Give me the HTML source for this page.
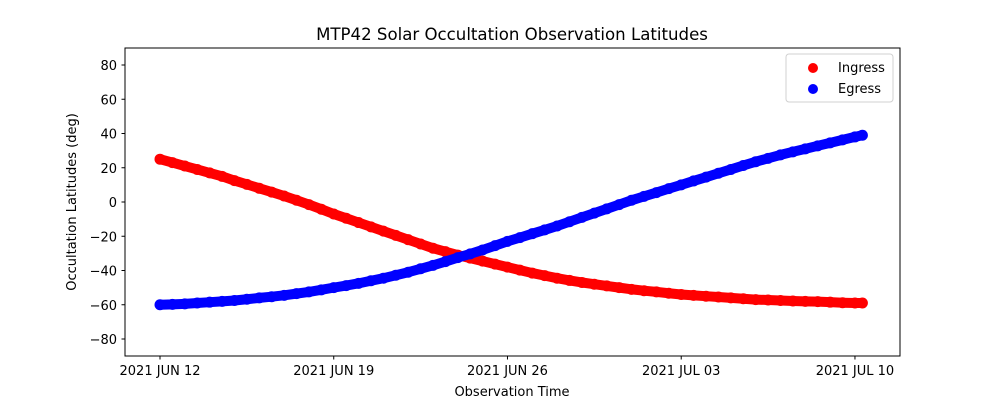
<!DOCTYPE html>
<html><head><meta charset="utf-8"><style>
body{margin:0;background:#fff;}
svg text{font-family:"DejaVu Sans","Liberation Sans",sans-serif;fill:#000;}
</style></head><body>
<svg id="chart" width="1000" height="400" xmlns="http://www.w3.org/2000/svg">
<rect width="1000" height="400" fill="#fff"/>
<text x="512" y="40" font-size="16.6" text-anchor="middle">MTP42 Solar Occultation Observation Latitudes</text>
<g id="marks"></g>
<g id="axes"></g>
<rect x="125" y="48" width="775" height="308" fill="none" stroke="#000" stroke-width="1"/>
<g>
<rect x="786" y="54" width="107" height="48" rx="3" fill="#fff" stroke="#ccc" opacity="0.9"/>
<circle cx="813" cy="68" r="5" fill="#f00"/>
<text x="838" y="72" font-size="13">Ingress</text>
<circle cx="813" cy="89" r="5" fill="#00f"/>
<text x="838" y="93" font-size="13">Egress</text>
</g>
<text x="512" y="396" font-size="13" text-anchor="middle">Observation Time</text>
<text transform="translate(76,202) rotate(-90)" font-size="13" text-anchor="middle">Occultation Latitudes (deg)</text>
</svg>
<script>
// days since 2021 JUN 12, half-day steps
const days = [0,0.5,1,1.5,2,2.5,3,3.5,4,4.5,5,5.5,6,6.5,7,7.5,8,8.5,9,9.5,10,10.5,11,11.5,12,12.5,13,13.5,14,14.5,15,15.5,16,16.5,17,17.5,18,18.5,19,19.5,20,20.5,21,21.5,22,22.5,23,23.5,24,24.5,25,25.5,26,26.5,27,27.5,28,28.3];
const ingress = [25,23,21,19,17,15,12.5,10.3,8,5.8,3.5,1,-1.5,-4.2,-7,-9.5,-12,-14.5,-17,-19.5,-22,-24.5,-27,-29,-31,-32.8,-34.5,-36.3,-38,-39.8,-41.5,-43,-44.5,-45.8,-47,-48,-49,-50,-51,-51.8,-52.5,-53.3,-54,-54.5,-55,-55.5,-56,-56.5,-57,-57.2,-57.5,-57.8,-58,-58.2,-58.5,-58.8,-59,-59];
const egress = [-60,-59.8,-59.5,-59,-58.5,-58,-57.5,-56.8,-56,-55.3,-54.5,-53.5,-52.5,-51.3,-50,-48.8,-47.5,-46,-44.5,-42.8,-41,-39,-37,-34.8,-32.5,-30.3,-28,-25.5,-23,-20.8,-18.5,-16.3,-14,-11.5,-9,-6.5,-4,-1.5,1,3.3,5.5,7.8,10,12.3,14.5,16.8,19,21.3,23.5,25.5,27.5,29.3,31,32.8,34.5,36.3,38,39];
const xTickDays = [0,7,14,21,28];
const xTickLabels = ["2021 JUN 12","2021 JUN 19","2021 JUN 26","2021 JUL 03","2021 JUL 10"];
const yTicks = [-80,-60,-40,-20,0,20,40,60,80];

const NS="http://www.w3.org/2000/svg";
const xs = d => 160 + d*24.82;
const ys = v => 202 - v*1.7125;
const marks=document.getElementById('marks'), axes=document.getElementById('axes');

function series(vals,color,name){
  const g=document.createElementNS(NS,'g');
  
  
  const pl=document.createElementNS(NS,'polyline');
  pl.setAttribute('points', days.map((d,i)=>xs(d)+','+ys(vals[i])).join(' '));
  pl.setAttribute('fill','none');pl.setAttribute('stroke',color);
  pl.setAttribute('stroke-width','10');pl.setAttribute('stroke-linecap','round');pl.setAttribute('stroke-linejoin','round');
  
  
  g.appendChild(pl);
  days.forEach((d,i)=>{
    const c=document.createElementNS(NS,'circle');
    c.setAttribute('cx',xs(d));c.setAttribute('cy',ys(vals[i]));c.setAttribute('r',5.5);c.setAttribute('fill',color);
    
    
    g.appendChild(c);
  });
  marks.appendChild(g);
}
series(ingress,'#f00','ingress');
series(egress,'#00f','egress');

xTickDays.forEach((d,i)=>{
  const l=document.createElementNS(NS,'line');
  l.setAttribute('x1',xs(d));l.setAttribute('x2',xs(d));l.setAttribute('y1',356);l.setAttribute('y2',359.5);l.setAttribute('stroke','#000');
  
  
  axes.appendChild(l);
  const t=document.createElementNS(NS,'text');
  t.setAttribute('x',xs(d));t.setAttribute('y',375);t.setAttribute('font-size','13');t.setAttribute('text-anchor','middle');
  t.textContent=xTickLabels[i];
  
  
  axes.appendChild(t);
});
yTicks.forEach(v=>{
  const l=document.createElementNS(NS,'line');
  l.setAttribute('x1',121.5);l.setAttribute('x2',125);l.setAttribute('y1',ys(v));l.setAttribute('y2',ys(v));l.setAttribute('stroke','#000');
  
  
  axes.appendChild(l);
  const t=document.createElementNS(NS,'text');
  t.setAttribute('x',117);t.setAttribute('y',ys(v)+5);t.setAttribute('font-size','13');t.setAttribute('text-anchor','end');
  t.textContent=(v<0?'\u2212'+(-v):String(v));
  
  
  axes.appendChild(t);
});
</script>
</body></html>
